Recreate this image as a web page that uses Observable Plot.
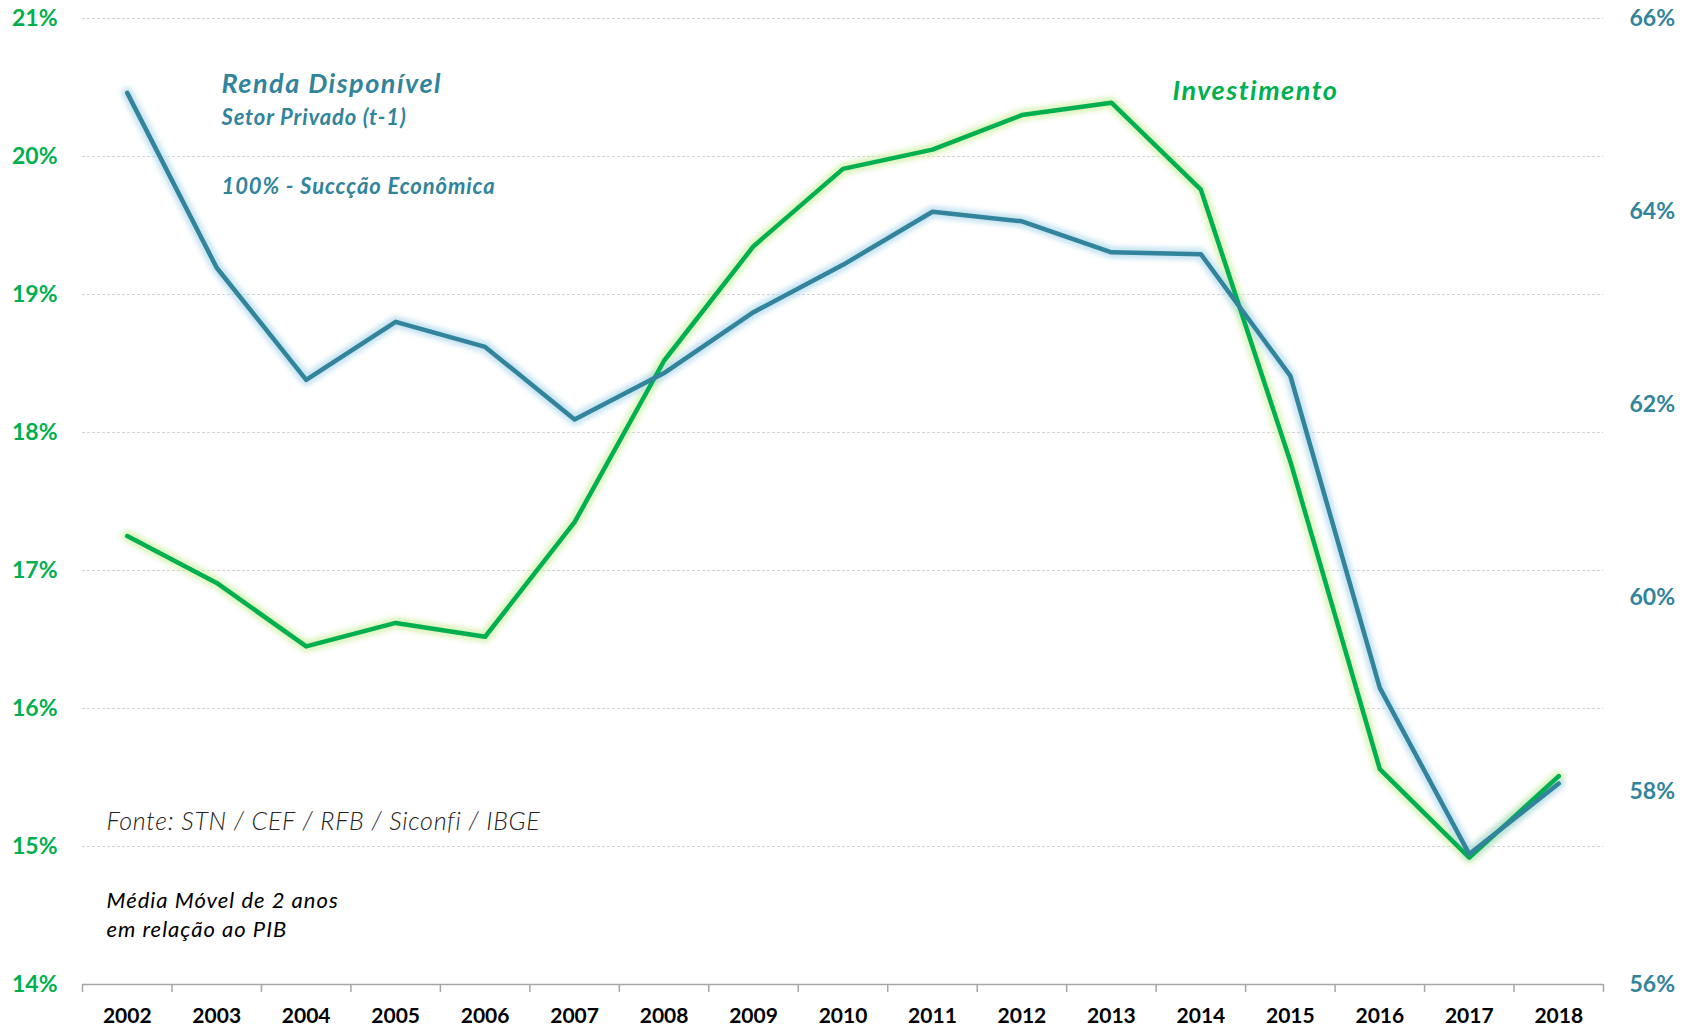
<!DOCTYPE html>
<html>
<head>
<meta charset="utf-8">
<script src="https://cdn.jsdelivr.net/npm/d3@7"></script>
<script src="https://cdn.jsdelivr.net/npm/@observablehq/plot@0.6"></script>
<style>
  html, body { margin: 0; padding: 0; background: #ffffff; }
  #chart { width: 1694px; height: 1030px; }
</style>
</head>
<body>
<div id="chart"></div>
<script>
// ---- data ----
const years = [2002, 2003, 2004, 2005, 2006, 2007, 2008, 2009, 2010, 2011, 2012, 2013, 2014, 2015, 2016, 2017, 2018];
// Investimento (% do PIB, left axis)
const investimento = [17.25, 16.91, 16.45, 16.62, 16.52, 17.35, 18.52, 19.35, 19.91, 20.05, 20.30, 20.39, 19.76, 17.79, 15.56, 14.92, 15.51];
// Renda Disponível Setor Privado (t-1) (% do PIB, right axis)
const rendaDisponivel = [65.23, 63.42, 62.26, 62.86, 62.60, 61.85, 62.33, 62.96, 63.45, 64.00, 63.90, 63.58, 63.56, 62.30, 59.07, 57.35, 58.08];
const leftTicks = [14, 15, 16, 17, 18, 19, 20, 21];
const rightTicks = [56, 58, 60, 62, 64, 66];
const leftDomain = [14, 21];
const rightDomain = [56, 66];

// map right-axis values onto the left (shared) y scale
const toLeft = v => leftDomain[0] + (v - rightDomain[0]) * (leftDomain[1] - leftDomain[0]) / (rightDomain[1] - rightDomain[0]);
const fromLeft = v => rightDomain[0] + (v - leftDomain[0]) * (rightDomain[1] - rightDomain[0]) / (leftDomain[1] - leftDomain[0]);

const invData = years.map((y, i) => ({year: y, value: investimento[i]}));
const rendaData = years.map((y, i) => ({year: y, value: toLeft(rendaDisponivel[i])}));
const boundaries = [years[0] - 0.5, ...years.map(y => y + 0.5)];

const GREEN = "#00B050";
const BLUE = "#31849B";

const chart = Plot.plot({
  width: 1694,
  height: 1030,
  marginLeft: 82,
  marginRight: 91,
  marginTop: 18,
  marginBottom: 46,
  style: {fontFamily: "Lato, 'Open Sans', sans-serif", background: "#ffffff", overflow: "visible"},
  x: {domain: [years[0] - 0.5, years[years.length - 1] + 0.5], label: null},
  y: {domain: leftDomain, label: null},
  marks: [
    // gridlines
    Plot.ruleY(leftTicks.filter(d => d > leftDomain[0]), {stroke: "#d4d4d4", strokeDasharray: "3,2", strokeWidth: 1}),
    // baseline
    Plot.ruleY([leftDomain[0]], {stroke: "#a6a6a6", strokeWidth: 1.5}),
    // category boundary ticks
    Plot.ruleX(boundaries, {x: d => d, y1: leftDomain[0], y2: leftDomain[0], insetBottom: -8, stroke: "#a6a6a6", strokeWidth: 1.5}),
    // axes
    Plot.axisX({ticks: years, tickFormat: d => String(d), tickSize: 0, tickPadding: 24, fontSize: 21, fontWeight: "bold", color: "#000000", label: null}),
    Plot.axisY({ticks: leftTicks, tickFormat: d => d + "%", tickSize: 0, tickPadding: 25, fontSize: 23, fontWeight: "bold", color: GREEN, anchor: "left", label: null}),
    Plot.axisY({ticks: rightTicks.map(toLeft), tickFormat: d => Math.round(fromLeft(d)) + "%", tickSize: 0, tickPadding: 26, fontSize: 23, fontWeight: "bold", color: BLUE, anchor: "right", label: null}),
    // glow halos
    Plot.line(invData, {x: "year", y: "value", stroke: "#c9ee9a", strokeWidth: 12, strokeOpacity: 0.65, imageFilter: "blur(2.5px)"}),
    Plot.line(rendaData, {x: "year", y: "value", stroke: "#a9d6ea", strokeWidth: 12, strokeOpacity: 0.65, imageFilter: "blur(2.5px)"}),
    // lines
    Plot.line(invData, {x: "year", y: "value", stroke: GREEN, strokeWidth: 4.5}),
    Plot.line(rendaData, {x: "year", y: "value", stroke: BLUE, strokeWidth: 4.5}),
    // annotations
    Plot.text(["Renda Disponível"], {frameAnchor: "top-left", dx: 139, dy: 66, textAnchor: "start", lineAnchor: "middle", fill: BLUE, fontSize: 27, fontWeight: "bold", fontStyle: "italic"}),
    Plot.text(["Setor Privado (t-1)"], {frameAnchor: "top-left", dx: 139, dy: 99, textAnchor: "start", lineAnchor: "middle", fill: BLUE, fontSize: 22, fontWeight: "bold", fontStyle: "italic"}),
    Plot.text(["100% - Succção Econômica"], {frameAnchor: "top-left", dx: 139, dy: 168, textAnchor: "start", lineAnchor: "middle", fill: BLUE, fontSize: 22, fontWeight: "bold", fontStyle: "italic"}),
    Plot.text(["Investimento"], {frameAnchor: "top-left", dx: 1090, dy: 73, textAnchor: "start", lineAnchor: "middle", fill: GREEN, fontSize: 27, fontWeight: "bold", fontStyle: "italic"}),
    Plot.text(["Fonte: STN / CEF / RFB / Siconfi / IBGE"], {frameAnchor: "top-left", dx: 24, dy: 803, textAnchor: "start", lineAnchor: "middle", fill: "#222222", fontSize: 25, fontWeight: 300, fontStyle: "italic"}),
    Plot.text(["Média Móvel de 2 anos\nem relação ao PIB"], {frameAnchor: "top-left", dx: 24, dy: 868, textAnchor: "start", lineAnchor: "top", lineHeight: 1.35, fill: "#000000", fontSize: 22, fontStyle: "italic"})
  ]
});

// letter spacing for the annotation texts (as in the original)
const spacing = {
  "Renda Disponível": "1.5px",
  "Setor Privado (t-1)": "0.85px",
  "100% - Succção Econômica": "0.9px",
  "Investimento": "1.5px",
  "Fonte: STN / CEF / RFB / Siconfi / IBGE": "0.7px",
  "Média Móvel de 2 anos": "1px",
  "em relação ao PIB": "1px"
};
d3.select(chart).selectAll("text, tspan").each(function() {
  const t = this.textContent;
  if (spacing[t] && (this.tagName === "tspan" || this.childElementCount === 0)) {
    this.style.letterSpacing = spacing[t];
  }
});
document.getElementById("chart").appendChild(chart);
</script>
</body>
</html>
